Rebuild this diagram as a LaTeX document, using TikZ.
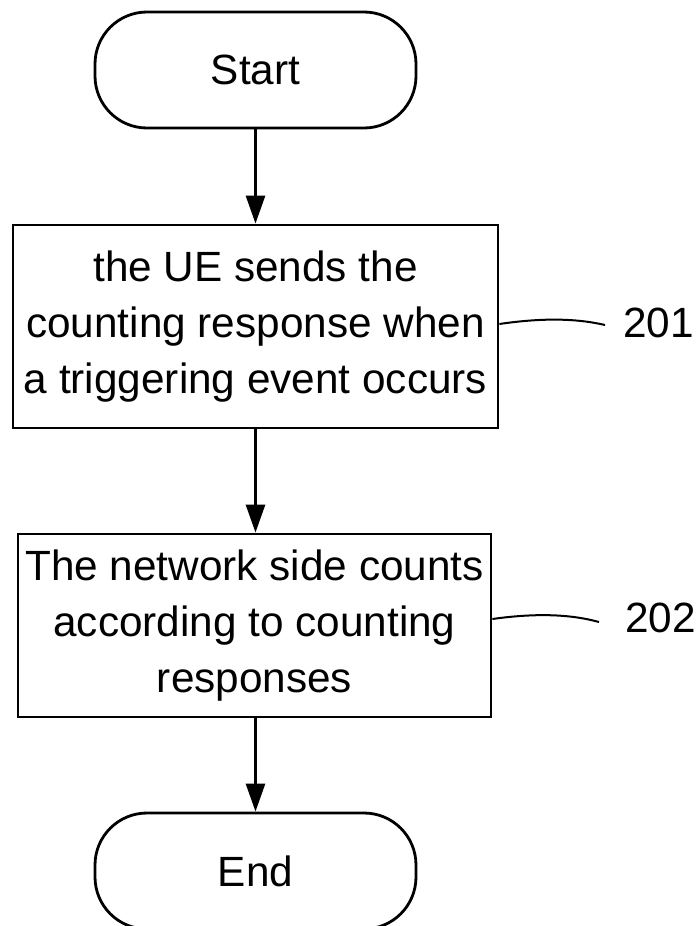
\documentclass[tikz,border=0pt]{standalone}
\usepackage{fontspec}
\setmainfont{Liberation Sans}
\usetikzlibrary{arrows.meta}
\begin{document}
\begin{tikzpicture}[x=1pt,y=-1pt,
  every node/.style={font=\fontsize{42.3}{56}\selectfont, inner sep=0pt},
  terminal/.style={draw, line width=2.8pt, rounded corners=52pt, minimum width=321pt, minimum height=116pt},
  stepbox/.style={draw, line width=2.8pt, align=center},
  flow/.style={line width=2.8pt, -{Triangle[length=28pt,width=19pt]}},
  leader/.style={line width=2pt}
]
\useasboundingbox (0,0) rectangle (700,926);
\node[terminal] (start) at (255.5,70) {Start};
\node[stepbox, minimum width=485pt, minimum height=203pt] (b1) at (255.5,326.5)
  {the UE sends the\\counting response when\\a triggering event occurs};
\node[stepbox, minimum width=473pt, minimum height=183pt] (b2) at (254.5,625.5)
  {The network side counts\\according to counting\\responses};
\node[terminal] (end) at (255.5,871) {End};

\draw[flow] (start.south) -- (start.south |- b1.north);
\draw[flow] (b1.south) -- (b1.south |- b2.north);
\draw[flow] (b2.south -| start.south) -- (end.north);

\coordinate (l1) at (605,325);
\coordinate (l2) at (599,622);
\node[anchor=west] (n1) at (623,323) {201};
\node[anchor=west] (n2) at (625,618) {202};
\draw[leader] ([yshift=2.5pt]b1.east) .. controls (540,318) and (575,318) .. (l1);
\draw[leader] ([yshift=6.5pt]b2.east) .. controls (535,613) and (570,614) .. (l2);
\end{tikzpicture}
\end{document}
